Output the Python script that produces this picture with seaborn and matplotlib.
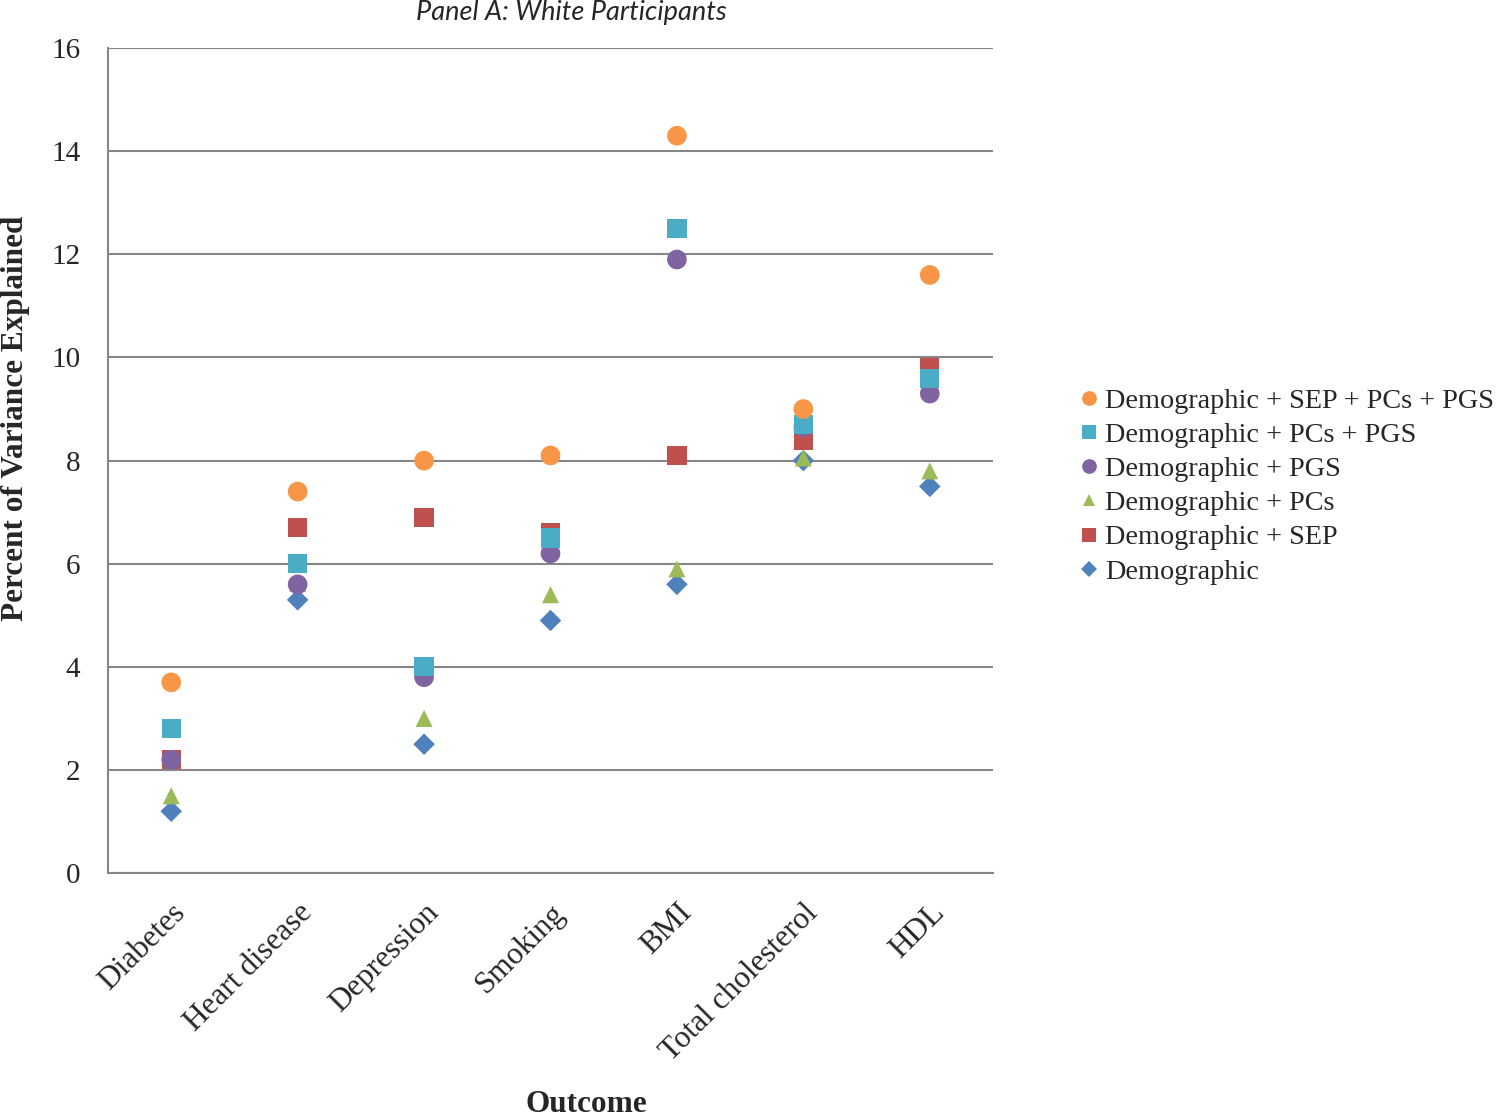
import matplotlib
matplotlib.use("Agg")
import matplotlib.pyplot as plt
import seaborn as sns
import pandas as pd

outcomes = ["Diabetes", "Heart disease", "Depression", "Smoking", "BMI", "Total cholesterol", "HDL"]

demographic = [1.2, 5.3, 2.5, 4.9, 5.6, 8.0, 7.5]
demo_sep = [2.2, 6.7, 6.9, 6.6, 8.1, 8.4, 9.8]
demo_pcs = [1.5, 5.62, 3.0, 5.4, 5.9, 8.05, 7.8]
demo_pgs = [2.2, 5.6, 3.8, 6.2, 11.9, 8.65, 9.3]
demo_pcs_pgs = [2.8, 6.0, 4.0, 6.5, 12.5, 8.7, 9.6]
demo_all = [3.7, 7.4, 8.0, 8.1, 14.3, 9.0, 11.6]

series_names = ["Demographic", "Demographic + SEP", "Demographic + PCs",
                "Demographic + PGS", "Demographic + PCs + PGS",
                "Demographic + SEP + PCs + PGS"]
series_values = [demographic, demo_sep, demo_pcs, demo_pgs, demo_pcs_pgs, demo_all]

colors = {"Demographic": "#4F81BD", "Demographic + SEP": "#C0504D",
          "Demographic + PCs": "#9BBB59", "Demographic + PGS": "#8064A2",
          "Demographic + PCs + PGS": "#4BACC6",
          "Demographic + SEP + PCs + PGS": "#F79646"}
markers = {"Demographic": "D", "Demographic + SEP": "s",
           "Demographic + PCs": "^", "Demographic + PGS": "o",
           "Demographic + PCs + PGS": "s",
           "Demographic + SEP + PCs + PGS": "o"}
sizes = {"Demographic": 120, "Demographic + SEP": 190,
         "Demographic + PCs": 150, "Demographic + PGS": 200,
         "Demographic + PCs + PGS": 190,
         "Demographic + SEP + PCs + PGS": 200}

rows = []
for name, vals in zip(series_names, series_values):
    for o, v in zip(outcomes, vals):
        rows.append({"Outcome": o, "Value": v, "Model": name})
df = pd.DataFrame(rows)

sns.set_style("white")
plt.rcParams["font.family"] = ["Liberation Serif", "DejaVu Serif"]

fig = plt.figure(figsize=(15, 11.18), dpi=100)
ax = fig.add_axes([0.072, 0.219, 0.590, 0.738])

sns.scatterplot(data=df, x="Outcome", y="Value", hue="Model", style="Model",
                size="Model", hue_order=series_names, style_order=series_names,
                size_order=series_names, palette=colors, markers=markers,
                sizes=sizes, linewidth=0, ax=ax, zorder=3)

ax.set_xlim(-0.5, 6.5)
ax.set_ylim(0, 16)
ax.set_yticks(range(0, 17, 2))
ax.yaxis.grid(True, color="#868686", linewidth=1.5)
ax.xaxis.grid(False)
ax.set_axisbelow(True)
for s in ["top", "right"]:
    ax.spines[s].set_visible(False)
for s in ["left", "bottom"]:
    ax.spines[s].set_color("#868686")
    ax.spines[s].set_linewidth(1.5)

ax.set_xticks(range(len(outcomes)))
ax.set_xticklabels(outcomes, rotation=45, ha="right", rotation_mode="anchor", fontsize=22.5)
ax.set_xticks([i - 0.5 for i in range(len(outcomes) + 1)], minor=True)
ax.tick_params(axis="x", which="major", length=0, pad=18)
ax.tick_params(axis="x", which="minor", length=6, width=1.5, color="#868686", direction="out")
ax.tick_params(axis="y", length=6, width=1.5, color="#868686", direction="out", labelsize=21, pad=14)

ax.set_xlabel("")
ax.set_ylabel("")
fig.text(0.391, 0.012, "Outcome", fontsize=22.5, fontweight="bold", ha="center", va="center")
fig.text(0.0105, 0.626, "Percent of Variance Explained", fontsize=22.5, fontweight="bold",
         rotation=90, ha="center", va="center")
fig.text(0.381, 0.989, "Panel A: White Participants", fontsize=19.5, fontstyle="italic",
         family=["Lato", "DejaVu Sans"], ha="center", va="center")

handles, labels = ax.get_legend_handles_labels()
ax.get_legend().remove()
pairs = [(h, l) for h, l in zip(handles, labels) if l in series_names]
pairs = pairs[::-1]
for h, _ in pairs:
    try:
        h.set_markersize(h.get_markersize() * 0.75)
    except Exception:
        pass
fig.legend([p[0] for p in pairs], [p[1] for p in pairs], loc="center left",
           bbox_to_anchor=(0.700, 0.565), frameon=False, fontsize=20.3,
           handletextpad=0.05, labelspacing=0.30, handlelength=1.0)

fig.savefig("out.png", dpi=100)
